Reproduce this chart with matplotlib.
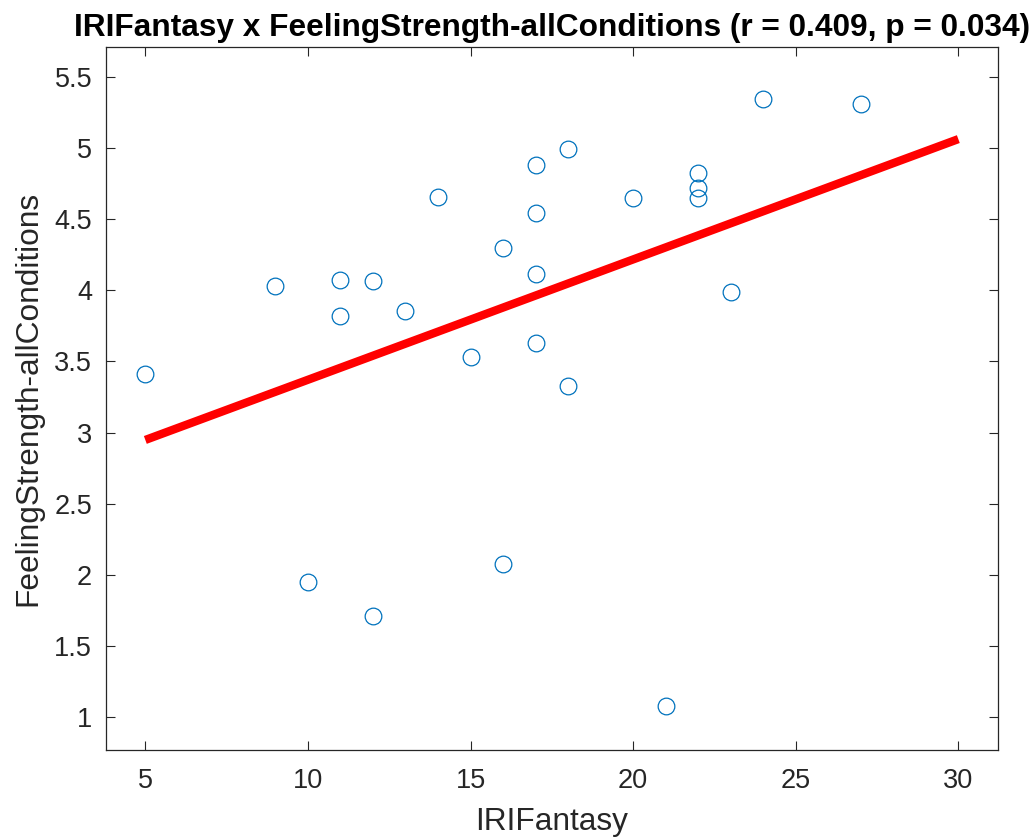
import numpy as np
import matplotlib
matplotlib.use("Agg")
import matplotlib.pyplot as plt

plt.rcParams['font.family'] = ['Liberation Sans', 'DejaVu Sans']

# values
iri_fantasy = [5, 9, 10, 11, 11, 12, 12, 13, 14, 15, 16, 16, 17, 17, 17, 17,
               18, 18, 20, 21, 22, 22, 22, 23, 24, 27]
feeling_strength = [3.409, 4.030, 1.953, 4.072, 3.821, 4.065, 1.712, 3.854,
                    4.655, 3.529, 4.294, 2.075, 4.880, 4.545, 4.112, 3.631,
                    4.990, 3.327, 4.650, 1.082, 4.821, 4.716, 4.646, 3.990,
                    5.341, 5.306]
fit_x = [5, 30]
fit_y = [2.948, 5.061]
x_ticks = [5, 10, 15, 20, 25, 30]
y_ticks = [1, 1.5, 2, 2.5, 3, 3.5, 4, 4.5, 5, 5.5]
y_ticklabels = ['1', '1.5', '2', '2.5', '3', '3.5', '4', '4.5', '5', '5.5']

axcol = '#262626'
fig = plt.figure(figsize=(10.36, 8.4), dpi=100)
ax = fig.add_axes([0.1023, 0.1071, 0.8607, 0.8373])

ax.plot(fit_x, fit_y, '-', color='#FF0000', lw=6, solid_capstyle='butt', zorder=2)
ax.plot(iri_fantasy, feeling_strength, 'o', mfc='none', mec='#0072BD',
        ms=12, mew=0.9, zorder=3)

ax.set_xlim(3.79, 31.21)
ax.set_ylim(0.77, 5.71)
ax.set_xticks(x_ticks)
ax.set_yticks(y_ticks)
ax.set_yticklabels(y_ticklabels)
ax.tick_params(direction='in', length=6.5, width=0.8, colors=axcol,
               labelsize=19.5, top=True, right=True)
ax.tick_params(axis='x', pad=13)
ax.tick_params(axis='y', pad=10)
for s in ax.spines.values():
    s.set_color(axcol)
    s.set_linewidth(0.9)

ax.set_xlabel('IRIFantasy', fontsize=22.8, color=axcol, labelpad=9)
ax.set_ylabel('FeelingStrength-allConditions', fontsize=22.8, color=axcol, labelpad=8)
ax.set_title('IRIFantasy x FeelingStrength-allConditions (r = 0.409, p = 0.034)',
             fontsize=22.8, fontweight='bold', pad=8)

fig.savefig('out.png', dpi=100)
